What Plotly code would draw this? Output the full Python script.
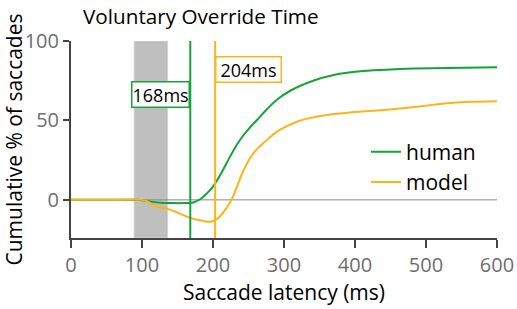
import plotly.graph_objects as go

latency_human = [0, 50, 95, 102, 110, 125, 140, 160, 172, 182, 190, 200, 210, 219, 228, 238, 250, 262, 276, 290, 310, 341, 370, 400, 463, 530, 600]
human = [0, 0, 0, -0.2, -0.9, -1.8, -2, -2, -1.6, 0.4, 3.5, 8.4, 15.5, 23, 30.5, 37.7, 44.5, 50.3, 57, 63, 69, 75, 78.6, 80.6, 82.4, 83, 83.4]

latency_model = [0, 50, 100, 107, 115, 125, 135, 150, 168, 182, 196, 203, 210, 219, 226, 233, 243, 257, 276, 294, 320, 351, 400, 440, 490, 534, 570, 600]
model = [0, 0, 0, -0.8, -3, -4.5, -5.5, -8, -11.4, -12.8, -13.8, -12.8, -10.3, -5, 0, 7.5, 18.5, 29.4, 37.7, 44, 49.5, 52.8, 55.3, 56.6, 58.8, 61, 61.8, 62]

band = [89, 136]
human_time = 168
model_time = 203
human_label = "168ms"
model_label = "204ms"

GREEN = "#12a537"
ORANGE = "#fdb515"
FONT = "Open Sans"

fig = go.Figure()
fig.add_shape(type="rect", x0=band[0], x1=band[1], y0=-24, y1=100, xref="x", yref="y",
              fillcolor="#bfbfbf", line=dict(color="#d0d0d0", width=1), layer="below")
fig.add_shape(type="line", x0=0, x1=600, y0=0, y1=0, xref="x", yref="y",
              line=dict(color="#888888", width=1), layer="below")
fig.add_shape(type="line", x0=human_time, x1=human_time, y0=-24, y1=101, xref="x", yref="y",
              line=dict(color=GREEN, width=2))
fig.add_shape(type="line", x0=model_time, x1=model_time, y0=-24, y1=100, xref="x", yref="y",
              line=dict(color=ORANGE, width=2))

fig.add_trace(go.Scatter(x=latency_human, y=human, mode="lines", name="human",
                         line=dict(color=GREEN, width=2, shape="spline", smoothing=1.2)))
fig.add_trace(go.Scatter(x=latency_model, y=model, mode="lines", name="model",
                         line=dict(color=ORANGE, width=2, shape="spline", smoothing=1.2)))

fig.add_annotation(x=human_time, y=66.4, xref="x", yref="y", text=human_label, showarrow=False,
                   xanchor="right", font=dict(size=18, color="black", family=FONT),
                   bordercolor=GREEN, borderwidth=1.5, bgcolor="white", borderpad=0)
fig.add_annotation(x=model_time, y=82, xref="x", yref="y", text=model_label, showarrow=False,
                   xanchor="left", width=64, align="center", font=dict(size=18, color="black", family=FONT),
                   bordercolor=ORANGE, borderwidth=1.5, bgcolor="white", borderpad=0)

fig.update_layout(
    width=517, height=309,
    margin=dict(l=71, r=20, t=41, b=71),
    paper_bgcolor="white", plot_bgcolor="white",
    font=dict(family=FONT, color="black"),
    title=dict(text="Voluntary Override Time", x=83/517, xanchor="left", y=1 - 17/309, yanchor="middle",
               font=dict(size=20.7, color="black", family=FONT)),
    legend=dict(x=(366-71)/426, y=(238-167)/197, xanchor="left", yanchor="middle", bgcolor="rgba(0,0,0,0)",
                font=dict(size=21, color="black", family=FONT), tracegroupgap=0),
    showlegend=True,
)
fig.update_xaxes(range=[0, 600], tickvals=[0, 100, 200, 300, 400, 500, 600], showgrid=False,
                 zeroline=False, showline=True, linecolor="#444444", linewidth=2,
                 ticks="outside", ticklen=8, tickcolor="#444444", tickwidth=2, automargin=False,
                 tickfont=dict(size=20, color="#6e6e6e", family=FONT),
                 title=dict(text="Saccade latency (ms)", font=dict(size=21, color="black", family=FONT), standoff=6))
fig.update_yaxes(range=[-24, 100], tickvals=[0, 50, 100], showgrid=False,
                 zeroline=False, showline=True, linecolor="#444444", linewidth=2,
                 ticks="outside", ticklen=6, tickcolor="#444444", tickwidth=2, automargin=False,
                 tickfont=dict(size=20, color="#6e6e6e", family=FONT),
                 title=dict(text="Cumulative % of saccades", font=dict(size=21, color="black", family=FONT), standoff=4))

fig.write_html("out.html", config={"displayModeBar": False},
               post_script="document.body.style.margin='0px';document.body.style.overflow='hidden';")
